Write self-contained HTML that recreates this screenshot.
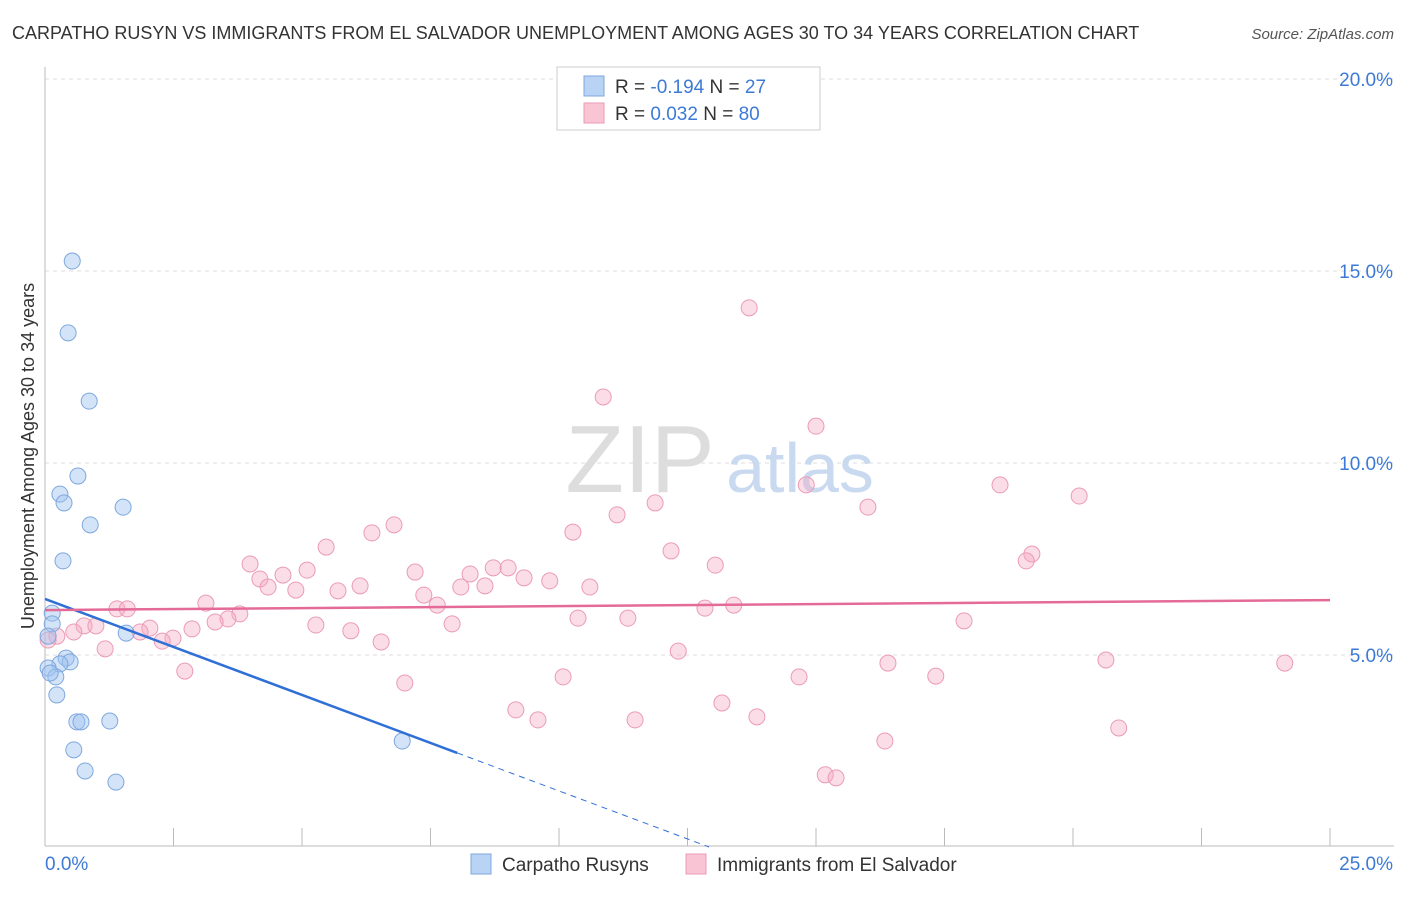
<!DOCTYPE html>
<html><head><meta charset="utf-8"><style>
body{margin:0;background:#fff;font-family:"Liberation Sans",sans-serif}
svg text{font-family:"Liberation Sans",sans-serif}
</style></head><body>
<svg width="1406" height="892" viewBox="0 0 1406 892" xmlns="http://www.w3.org/2000/svg">
<text x="12" y="39" font-size="18" fill="#333">CARPATHO RUSYN VS IMMIGRANTS FROM EL SALVADOR UNEMPLOYMENT AMONG AGES 30 TO 34 YEARS CORRELATION CHART</text>
<text x="1394" y="39" font-size="15" fill="#555" font-style="italic" text-anchor="end">Source: ZipAtlas.com</text>
<g id="grid"></g>
<g id="axes"></g>
<text x="640" y="492" font-size="96" fill="#ddd" font-family="Liberation Serif" text-anchor="middle">ZIP</text>
<text x="800" y="492" font-size="70" fill="#c9d9f0" text-anchor="middle">atlas</text>
<g id="pts"></g>
<g id="lines"></g>
<text x="34" y="456" font-size="18" fill="#333" text-anchor="middle" transform="rotate(-90 34 456)">Unemployment Among Ages 30 to 34 years</text>
<g>
<rect x="557" y="67" width="263" height="63" fill="#fff" stroke="#ccc"/>
<rect x="584" y="76" width="20" height="20" fill="#b9d3f5" stroke="#7ea7dd"/>
<rect x="584" y="103" width="20" height="20" fill="#f9c5d5" stroke="#eb9bb6"/>
<text x="615" y="93" font-size="19" fill="#333">R = <tspan fill="#3d7ad6">-0.194</tspan>   N = <tspan fill="#3d7ad6">27</tspan></text>
<text x="615" y="120" font-size="19" fill="#333">R = <tspan fill="#3d7ad6"> 0.032</tspan>   N = <tspan fill="#3d7ad6">80</tspan></text>
</g>
<g>
<rect x="471" y="854" width="20" height="20" fill="#b9d3f5" stroke="#7ea7dd"/>
<text x="502" y="871" font-size="19" fill="#333">Carpatho Rusyns</text>
<rect x="686" y="854" width="20" height="20" fill="#f9c5d5" stroke="#eb9bb6"/>
<text x="717" y="871" font-size="19" fill="#333">Immigrants from El Salvador</text>
</g>
<script>
const yTicks=[5,10,15,20];
const yTickLabels=["5.0%","10.0%","15.0%","20.0%"];
const xTickLabels=["0.0%","25.0%"];
const blueX=[0.53,0.45,0.86,0.64,0.29,0.37,1.52,0.88,0.35,0.14,0.14,1.58,0.06,0.41,0.49,0.29,0.06,0.21,0.23,0.62,0.70,1.26,0.56,0.78,1.38,6.95,0.10];
const blueY=[15.26,13.39,11.61,9.66,9.19,8.96,8.85,8.39,7.45,6.09,5.81,5.57,5.49,4.92,4.82,4.77,4.66,4.43,3.96,3.26,3.26,3.28,2.53,1.98,1.69,2.76,4.53];
const pinkX=[13.70,10.86,15.00,14.81,18.58,20.12,11.87,16.01,11.13,6.79,6.36,10.27,5.47,12.18,19.20,19.09,3.99,13.04,8.72,9.01,5.10,7.20,4.63,4.18,8.27,9.32,9.82,6.13,4.34,4.88,5.70,10.60,8.09,8.56,7.37,3.13,7.63,13.40,1.40,1.60,12.84,3.79,3.56,3.31,10.37,11.34,17.88,7.92,0.76,0.99,2.04,5.27,2.86,1.85,0.56,0.23,5.95,2.49,2.28,6.54,1.17,12.32,20.64,16.40,24.12,2.72,10.08,14.67,17.33,7.00,13.17,9.16,9.59,11.48,13.85,16.34,20.89,15.18,15.39,0.06];
const pinkY=[14.04,11.72,10.96,9.43,9.43,9.14,8.96,8.85,8.65,8.39,8.18,8.20,7.81,7.71,7.63,7.45,7.37,7.34,7.27,7.27,7.21,7.16,7.08,6.98,7.11,7.01,6.93,6.80,6.77,6.69,6.67,6.77,6.77,6.80,6.56,6.35,6.30,6.30,6.20,6.20,6.22,6.07,5.94,5.86,5.96,5.96,5.89,5.81,5.76,5.76,5.70,5.78,5.68,5.60,5.60,5.49,5.63,5.44,5.36,5.34,5.16,5.10,4.87,4.79,4.79,4.58,4.43,4.43,4.45,4.27,3.75,3.57,3.31,3.31,3.39,2.76,3.10,1.88,1.80,5.39];
const blueTrend=[6.46,-0.5];
const pinkTrend=[6.17,0.0104];
const blueSolidEnd=8.02;
const NS="http://www.w3.org/2000/svg";
const sx=v=>45+v*51.4;
const sy=v=>847-v*38.4;
function mk(tag,attrs,parent){const e=document.createElementNS(NS,tag);for(const k in attrs)e.setAttribute(k,attrs[k]);parent.appendChild(e);return e;}
const grid=document.getElementById('grid'),axes=document.getElementById('axes');
yTicks.forEach((t,i)=>{
 const l=mk('line',{x1:45,x2:1394,y1:sy(t),y2:sy(t),stroke:'#ddd','stroke-dasharray':'4,4'},grid);
 
 
 const tx=mk('text',{x:1393,y:sy(t)+7,'font-size':19,fill:'#3d7ad6','text-anchor':'end'},axes);
 tx.textContent=yTickLabels[i];
 
 
});
const tl=mk('line',{x1:45,x2:1394,y1:79,y2:79,stroke:'#ddd','stroke-dasharray':'4,4'},grid);


const ya=mk('line',{x1:45,x2:45,y1:67,y2:846,stroke:'#bbb'},axes);


const xa=mk('line',{x1:45,x2:1394,y1:846,y2:846,stroke:'#bbb'},axes);


for(let i=0;i<=10;i++){
 const t=mk('line',{x1:sx(i*2.5),x2:sx(i*2.5),y1:828,y2:846,stroke:'#bbb'},axes);
 
 
}
const xl0=mk('text',{x:45,y:870,'font-size':19,fill:'#3d7ad6'},axes);
xl0.textContent=xTickLabels[0];


const xl1=mk('text',{x:1393,y:870,'font-size':19,fill:'#3d7ad6','text-anchor':'end'},axes);
xl1.textContent=xTickLabels[1];


const pts=document.getElementById('pts');
pinkX.forEach((x,i)=>{
 const c=mk('circle',{cx:sx(x),cy:sy(pinkY[i]),r:8,fill:'rgba(245,170,195,0.4)',stroke:'#eb9bb6','stroke-width':1},pts);
 
 
});
blueX.forEach((x,i)=>{
 const c=mk('circle',{cx:sx(x),cy:sy(blueY[i]),r:8,fill:'rgba(160,195,240,0.45)',stroke:'#7ea7dd','stroke-width':1},pts);
 
 
});
const lines=document.getElementById('lines');
const by=x=>blueTrend[0]+blueTrend[1]*x;
const py=x=>pinkTrend[0]+pinkTrend[1]*x;
const b1=mk('line',{x1:sx(0),y1:sy(by(0)),x2:sx(blueSolidEnd),y2:sy(by(blueSolidEnd)),stroke:'#2f6fd6','stroke-width':2.5},lines);


const xEnd=-blueTrend[0]/blueTrend[1];
const b2=mk('line',{x1:sx(blueSolidEnd),y1:sy(by(blueSolidEnd)),x2:sx(xEnd),y2:sy(0),stroke:'#2f6fd6','stroke-width':1,'stroke-dasharray':'6,5'},lines);


const p1=mk('line',{x1:sx(0),y1:sy(py(0)),x2:sx(25),y2:sy(py(25)),stroke:'#e46a97','stroke-width':2.5},lines);


</script>
</svg>
</body></html>
